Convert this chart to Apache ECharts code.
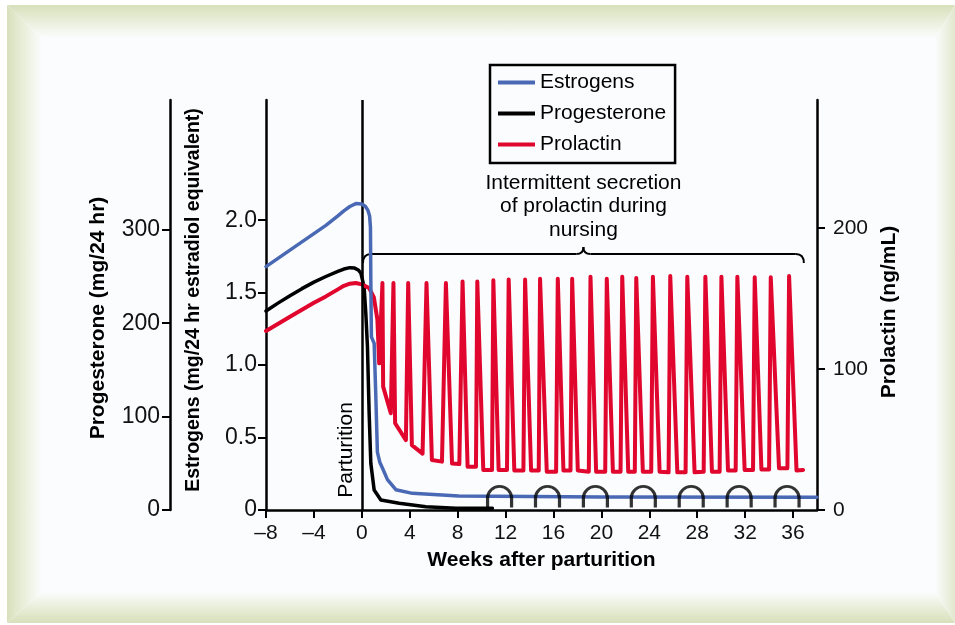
<!DOCTYPE html>
<html>
<head>
<meta charset="utf-8">
<script src="https://cdn.jsdelivr.net/npm/echarts@6/dist/echarts.min.js"></script>
<style>
	html, body { margin: 0; padding: 0; background: #fff; }
	.band { position: absolute; left: 0; top: 0; width: 955px; height: 625px; }
	#top { clip-path: polygon(7px 5px, 955px 5px, 935px 38px, 42px 38px); background: linear-gradient(to bottom, #d7e0bc 5px, #e4ead0 16px, #fbfcfd 38px); }
	#bottom { clip-path: polygon(7px 623px, 955px 623px, 935px 592px, 42px 592px); background: linear-gradient(to top, #d7e0bc 2px, #e4ead0 13px, #fbfcfd 33px); }
	#left { clip-path: polygon(7px 5px, 42px 38px, 42px 592px, 7px 623px); background: linear-gradient(to right, #d7e0bc 7px, #e4ead0 18px, #fbfcfd 42px); }
	#right { clip-path: polygon(955px 5px, 935px 38px, 935px 592px, 955px 623px); background: linear-gradient(to left, #e2e7cd 0px, #fbfcfd 20px); }
	#panel { position: absolute; left: 42px; top: 38px; width: 893px; height: 554px; background: #fbfcfd; }
	#chart { position: absolute; left: 0; top: 0; width: 955px; height: 625px; }
</style>
</head>
<body>
<div class="band" id="top"></div>
<div class="band" id="bottom"></div>
<div class="band" id="left"></div>
<div class="band" id="right"></div>
<div id="panel"></div>
<div id="chart"></div>
<script>
var fontFamily = '"Liberation Sans", Arial, Helvetica, sans-serif';

// weeks relative to parturition
var estrogenWeeks = [-8, -6, -4, -3, -2, -1.5, -1, -0.5, 0, 0.3, 0.5, 0.65, 0.72, 0.75, 0.8, 1.03, 1.17, 1.3, 1.5, 1.72, 2.14, 2.84, 4.23, 8.1, 20, 38];
var estrogenLevels = [1.68, 1.794, 1.908, 1.965, 2.03, 2.065, 2.095, 2.115, 2.112, 2.095, 2.07, 2.03, 1.95, 1.59, 1.195, 1.15, 0.78, 0.4, 0.33, 0.29, 0.21, 0.14, 0.115, 0.097, 0.09, 0.088];

var progesteroneWeeks = [-8, -7, -6, -5, -4, -3, -2, -1.5, -1, -0.6, -0.3, -0.08, 0.19, 0.33, 0.47, 0.61, 0.75, 1.03, 1.59, 3.12, 5.35, 7.85, 10.9];
var progesteroneLevels = [213, 221.5, 229.5, 237, 244, 250, 255.5, 258, 259.5, 259, 257, 253.7, 239, 211, 175, 104, 50, 21.4, 10.7, 7.2, 3.5, 2, 2];

var prolactinWeeks = [
	-8, -6, -4, -3, -2, -1.5, -1, -0.5, 0, 0.6, 1.0, 1.3, 1.45,
	1.72, 1.78, 2.42, 2.64, 2.78, 3.68, 3.87, 4.18, 5.07,
	5.40, 5.85, 6.69, 7.02, 7.53, 8.14, 8.41, 8.83, 9.53,
	9.64, 10.14, 10.87, 10.98, 11.42, 12.12, 12.26, 12.73, 13.49,
	13.63, 14.13, 14.77, 14.88, 15.44, 16.22, 16.36, 16.83, 17.42,
	17.56, 18.03, 18.95, 19.09, 19.56, 20.32, 20.45, 20.96, 21.6,
	21.74, 22.24, 22.79, 22.91, 23.46, 24.16, 24.30, 24.86, 25.61,
	25.75, 26.34, 27.03, 27.17, 27.78, 28.54, 28.68, 29.23, 29.87,
	30.02, 30.57, 31.21, 31.35, 31.96, 32.66, 32.80, 33.36, 34.0,
	34.14, 34.83, 35.53, 35.67, 36.29, 36.84
];
var prolactinLevels = [
	127, 137, 147, 151.5, 156.5, 159, 160.5, 161, 160, 157.5, 151, 135, 104,
	161, 87.5, 68.6, 161, 61.5, 49.6, 161, 46, 40,
	161, 35.5, 34.3, 161, 33, 32.6, 162, 30.7, 30.7,
	162, 28.4, 28.4, 163, 28.4, 28.4, 163.5, 28, 28,
	163.5, 28, 28, 164, 27.2, 27.2, 164, 28, 28,
	164, 28, 27.2, 165.5, 27.2, 27.2, 164, 27.2, 27.2,
	165.5, 27.2, 27.2, 164.5, 27.2, 27.2, 165.5, 27.2, 26.7,
	166, 26.7, 26.7, 165.5, 26.7, 27.2, 165.5, 27.2, 27.2,
	165.5, 28, 28, 165.5, 28.4, 28.4, 165, 28.8, 28.8,
	165, 29.6, 29.6, 166, 28, 28.4
];

// suckling episodes (arches on the baseline)
var nursingWeeks = [11.5, 15.5, 19.5, 23.5, 27.5, 31.5, 35.5];

var weekTicks = [-8, -4, 0, 4, 8, 12, 16, 20, 24, 28, 32, 36];
var estrogenTicks = [0, 0.5, 1, 1.5, 2];
var progesteroneTicks = [0, 100, 200, 300];
var prolactinTicks = [0, 100, 200];

function zip(xs, ys) {
	return xs.map(function (x, i) { return [x, ys[i]]; });
}

var axisLineStyle = { color: '#000', width: 2.5 };
var tickStyle = { color: '#000', width: 2 };
var nameStyle = { fontFamily: fontFamily, fontWeight: 'bold', fontSize: 21, color: '#000' };

var chart = echarts.init(document.getElementById('chart'));

var option = {
	animation: false,
	textStyle: { fontFamily: fontFamily },
	grid: { left: 266, right: 138, top: 100, bottom: 115, show: false },
	legend: {
		data: ['Estrogens', 'Progesterone', 'Prolactin'],
		orient: 'vertical',
		left: 490,
		top: 65,
		padding: [7, 9, 8, 8],
		itemGap: 10,
		itemWidth: 37,
		itemHeight: 4,
		icon: 'rect',
		borderColor: '#000',
		borderWidth: 2.5,
		selectedMode: false,
		textStyle: { fontFamily: fontFamily, fontSize: 21, color: '#000' }
	},
	xAxis: {
		type: 'value',
		min: -8,
		max: 38,
		name: 'Weeks after parturition',
		nameLocation: 'middle',
		nameGap: 40,
		nameTextStyle: nameStyle,
		axisLine: { onZero: false, lineStyle: axisLineStyle },
		axisTick: { length: 8, lineStyle: tickStyle, customValues: weekTicks },
		axisLabel: {
			customValues: weekTicks,
			margin: 13,
			fontSize: 21,
			color: '#111',
			formatter: function (v) { return v < 0 ? '\u2013' + (-v) : String(v); }
		},
		splitLine: { show: false }
	},
	yAxis: [
		{
			type: 'value',
			min: 0,
			max: 2.83,
			position: 'left',
			name: 'Estrogens (mg/24 hr estradiol equivalent)',
			nameLocation: 'middle',
			nameGap: 62,
			nameTextStyle: Object.assign({}, nameStyle, { fontSize: 19.5, padding: [0, 0, 0, 10] }),
			axisLine: { onZero: false, lineStyle: axisLineStyle },
			axisTick: { length: 8, lineStyle: tickStyle, customValues: estrogenTicks },
			axisLabel: {
				customValues: estrogenTicks,
				margin: 9,
				fontSize: 23,
				color: '#111',
				formatter: function (v) { return v === 0 ? '0' : v.toFixed(1); }
			},
			splitLine: { show: false }
		},
		{
			type: 'value',
			min: 0,
			max: 439,
			position: 'left',
			offset: 96,
			name: 'Progesterone (mg/24 hr)',
			nameLocation: 'middle',
			nameGap: 61,
			nameTextStyle: Object.assign({}, nameStyle, { padding: [0, 26, 0, 0] }),
			axisLine: { onZero: false, lineStyle: axisLineStyle },
			axisTick: { length: 8, lineStyle: tickStyle, customValues: progesteroneTicks },
			axisLabel: { customValues: progesteroneTicks, margin: 10, fontSize: 23, color: '#111' },
			splitLine: { show: false }
		},
		{
			type: 'value',
			min: 0,
			max: 290.8,
			position: 'right',
			name: 'Prolactin (ng/mL)',
			nameLocation: 'middle',
			nameGap: 60,
			nameTextStyle: Object.assign({}, nameStyle, { padding: [0, 14, 0, 0] }),
			axisLine: { onZero: false, lineStyle: axisLineStyle },
			axisTick: { length: 8, lineStyle: tickStyle, customValues: prolactinTicks },
			axisLabel: { customValues: prolactinTicks, margin: 16, fontSize: 21, color: '#111' },
			splitLine: { show: false }
		}
	],
	series: [
		{
			name: 'Progesterone',
			type: 'line',
			yAxisIndex: 1,
			showSymbol: false,
			z: 3,
			color: '#000',
			lineStyle: { width: 3.5, join: 'round', cap: 'round' },
			data: zip(progesteroneWeeks, progesteroneLevels),
			markLine: {
				silent: true,
				symbol: 'none',
				label: { show: false },
				lineStyle: { color: '#000', width: 2.5, type: 'solid' },
				data: [{ xAxis: 0 }]
			}
		},
		{
			name: 'Prolactin',
			type: 'line',
			yAxisIndex: 2,
			showSymbol: false,
			z: 4,
			color: '#e0062e',
			lineStyle: { width: 4, join: 'round', cap: 'round' },
			data: zip(prolactinWeeks, prolactinLevels)
		},
		{
			name: 'Estrogens',
			type: 'line',
			yAxisIndex: 0,
			showSymbol: false,
			z: 5,
			color: '#4a69b5',
			lineStyle: { width: 3.5, join: 'round', cap: 'round' },
			data: zip(estrogenWeeks, estrogenLevels)
		},
		{
			name: 'Nursing',
			type: 'scatter',
			yAxisIndex: 0,
			z: 6,
			silent: true,
			symbol: 'path://M0,20 L0,11 A11,11 0 0 1 22,11 L22,20',
			symbolSize: [24, 21],
			itemStyle: { color: 'none', borderColor: '#000', borderWidth: 3 },
			data: nursingWeeks.map(function (w) { return [w, 0.09]; })
		}
	]
};

chart.setOption(option);

// annotation: brace over the nursing period, caption and parturition label
var bx0 = chart.convertToPixel({ xAxisIndex: 0 }, 0.1);
var bx1 = chart.convertToPixel({ xAxisIndex: 0 }, 36.9);
var bxc = (bx0 + bx1) / 2;
var by = 254;
var braceStyle = { stroke: '#000', lineWidth: 2, fill: null };

chart.setOption({
	graphic: [
		{ type: 'bezierCurve', shape: { x1: bx0, y1: by + 9, cpx1: bx0, cpy1: by, x2: bx0 + 8, y2: by }, style: braceStyle },
		{ type: 'line', shape: { x1: bx0 + 8, y1: by, x2: bxc - 7, y2: by }, style: braceStyle },
		{ type: 'bezierCurve', shape: { x1: bxc - 7, y1: by, cpx1: bxc, cpy1: by, x2: bxc, y2: by - 7 }, style: braceStyle },
		{ type: 'bezierCurve', shape: { x1: bxc, y1: by - 7, cpx1: bxc, cpy1: by, x2: bxc + 7, y2: by }, style: braceStyle },
		{ type: 'line', shape: { x1: bxc + 7, y1: by, x2: bx1 - 8, y2: by }, style: braceStyle },
		{ type: 'bezierCurve', shape: { x1: bx1 - 8, y1: by, cpx1: bx1, cpy1: by, x2: bx1, y2: by + 9 }, style: braceStyle },
		{
			type: 'text',
			x: bxc,
			y: 171,
			style: {
				text: 'Intermittent secretion\nof prolactin during\nnursing',
				fontFamily: fontFamily,
				fontSize: 21,
				lineHeight: 23.5,
				fill: '#000',
				align: 'center',
				verticalAlign: 'top'
			}
		},
		{
			type: 'text',
			x: 346,
			y: 450,
			rotation: Math.PI / 2,
			style: {
				text: 'Parturition',
				fontFamily: fontFamily,
				fontSize: 21,
				fill: '#000',
				align: 'center',
				verticalAlign: 'middle'
			}
		}
	]
});
</script>
</body>
</html>
